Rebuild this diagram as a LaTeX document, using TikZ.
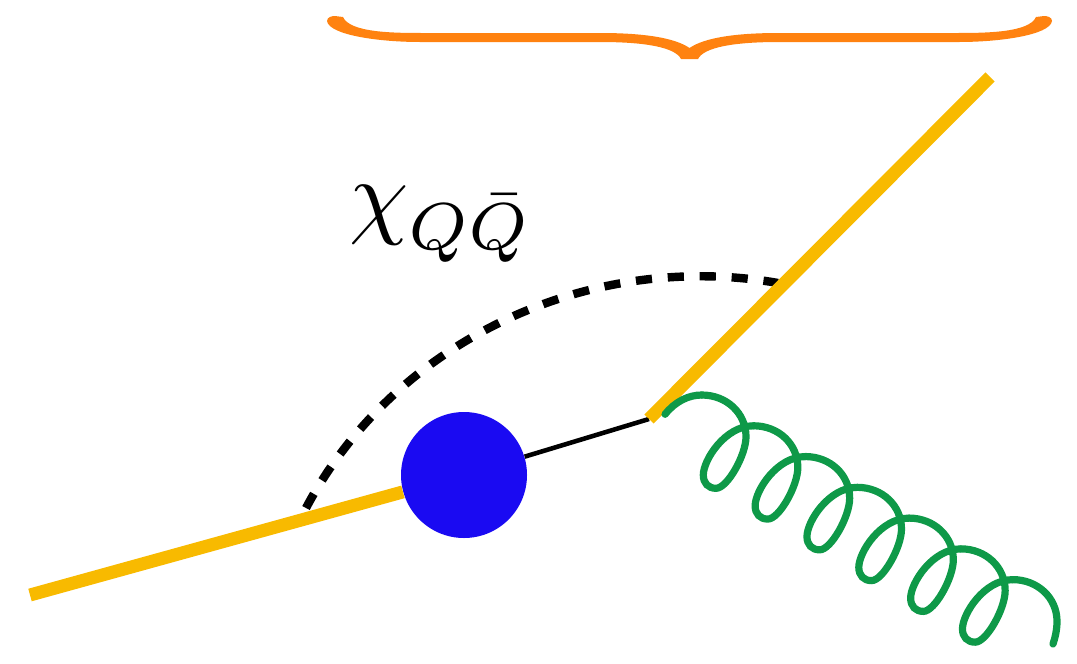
\documentclass[tikz,border=0pt]{standalone}
\definecolor{quarkcol}{HTML}{F8BA00}
\definecolor{gluoncol}{HTML}{0E9948}
\definecolor{blobcol}{HTML}{1A0AF2}
\definecolor{bracecol}{HTML}{FF8210}

\begin{document}
\begin{tikzpicture}[x=0.02cm, y=-0.02cm,
  quark/.style={draw=quarkcol, line width=7.4pt},
  link/.style={draw=black, line width=2.6pt},
  blob/.style={circle, fill=blobcol, minimum size=126*0.02cm, inner sep=0pt},
  softline/.style={draw=black, line width=4.8pt, dash pattern=on 9.2pt off 9pt},
  gluon/.style={draw=gluoncol, line width=4.1pt, line cap=round}]
  \useasboundingbox (0,0) rectangle (1077,663);
  \node[blob] (core) at (464,475) {};
  \coordinate (qin) at (30,595);
  \coordinate (vtx) at (649,419);
  \coordinate (qout) at (990,77);
  \coordinate (softa) at (306,508);
  \coordinate (softb) at (778,283);
  \coordinate (gluea) at (665,414.3);
  \coordinate (glueb) at (1053,644);
  \draw[softline] (softa) .. controls (395,340) and (590,250) .. (softb);
  \draw[link] (core) -- (vtx);
  \draw[quark] (qin) -- (core);
  \draw[quark] (vtx) -- (qout);
  % gluon: first arc, six repeated turns, last arc
  \draw[gluon] (gluea) .. controls (675,401.7) and (688.3,395) .. (701.7,395);
  \foreach \k in {0,...,5} {
    \begin{scope}[shift={(\k*51.83,\k*30.77)}]
      \draw[gluon] (701.7,395) .. controls (726.7,395) and (746,413.3) .. (746,436.7)
        .. controls (746,455) and (727.3,488.3) .. (716,488.3)
        .. controls (708.3,488.3) and (703.3,483.3) .. (703.3,475)
        .. controls (703.3,460) and (725,425.8) .. (753.5,425.8);
    \end{scope}
  }
  \draw[gluon] (1012.7,579.6) .. controls (1037.7,579.6) and (1057,597.9) .. (1057,621.3)
    .. controls (1057,630) and (1055,638) .. (glueb);
  % brace as one filled outline
  \fill[bracecol] (327,21) .. controls (327,17) and (332,16) .. (335,16)
    -- (343,17) .. controls (350,33) and (395,33) .. (425,33) -- (600,33)
    .. controls (645,33) and (675,38) .. (689.5,48)
    .. controls (704,38) and (734,33) .. (779,33) -- (954,33)
    .. controls (984,33) and (1029,33) .. (1036,17) -- (1044,16)
    .. controls (1047,16) and (1052,17) .. (1052,21)
    .. controls (1050,35) and (1000,42) .. (959,42) -- (779,42)
    .. controls (735,42) and (704,47) .. (698,59) -- (681,59)
    .. controls (675,47) and (644,42) .. (600,42) -- (420,42)
    .. controls (379,42) and (329,35) .. (327,21) -- cycle;
  \node[scale=5.4] (label) at (441,224) {$\chi_{Q\bar{Q}}$};
\end{tikzpicture}
\end{document}
